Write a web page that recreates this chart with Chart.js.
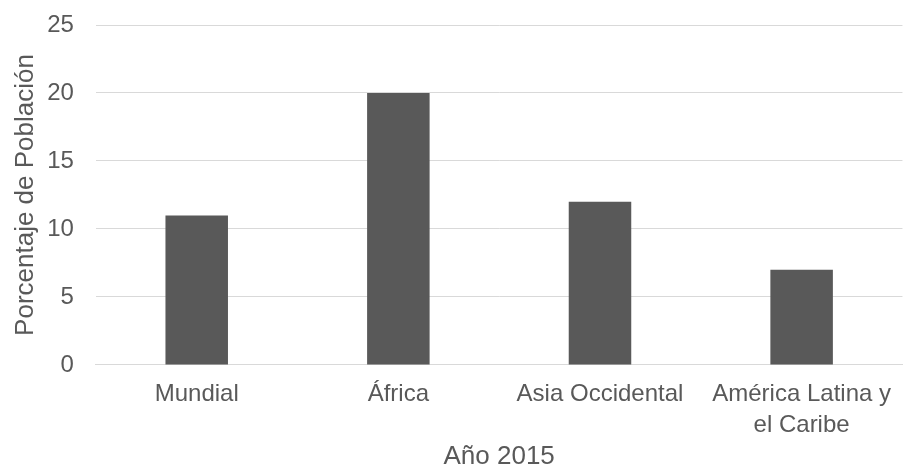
<!DOCTYPE html>
<html>
<head>
<meta charset="utf-8">
<script src="https://cdn.jsdelivr.net/npm/chart.js@4"></script>
<style>
  html, body { margin: 0; padding: 0; background: #fff; }
  #wrap { width: 904px; height: 468px; }
</style>
</head>
<body>
<div id="wrap"><canvas id="chart" width="904" height="468"></canvas></div>
<script>
// regiones y porcentaje de población (año 2015)
var regiones = ['Mundial', 'África', 'Asia Occidental', ['América Latina y', 'el Caribe']]
var porcentajes = [11, 20, 12, 7]
var ejeY = { min: 0, max: 25, paso: 5 }

var gris = '#595959'
var fuente = "'Liberation Sans', Arial, sans-serif"

Chart.defaults.font.family = fuente
Chart.defaults.color = gris

new Chart(document.getElementById('chart').getContext('2d'), {
  type: 'bar'
, data: {
    labels: regiones
  , datasets: [{
      data: porcentajes
    , backgroundColor: gris
    , borderWidth: 0
    , barPercentage: 0.31
    , categoryPercentage: 1
    }]
  }
, options: {
    responsive: false
  , animation: false
  , layout: { padding: { left: 10, right: 0, top: 0, bottom: 0 } }
  , plugins: { legend: { display: false }, tooltip: { enabled: false } }
  , scales: {
      x: {
        grid: { display: false, drawTicks: false }
      , border: { color: '#d9d9d9', width: 1 }
      , ticks: { font: { size: 24, lineHeight: 1.33 }, padding: 13, maxRotation: 0, autoSkip: false }
      , title: { display: true, text: 'Año 2015', font: { size: 26 }, padding: { top: -14, bottom: -4 } }
      }
    , y: {
        min: ejeY.min
      , max: ejeY.max
      , ticks: { stepSize: ejeY.paso, font: { size: 24 }, padding: 22 }
      , grid: { color: '#d9d9d9', drawTicks: false }
      , border: { display: false }
      , title: { display: true, text: 'Porcentaje de Población', font: { size: 26 }, padding: { top: 0, bottom: -16 } }
        // el padding de las etiquetas no debe empujar la línea superior hacia abajo
      , afterFit: function (eje) { eje.paddingTop = 25 }
      }
    }
  }
})
</script>
</body>
</html>
